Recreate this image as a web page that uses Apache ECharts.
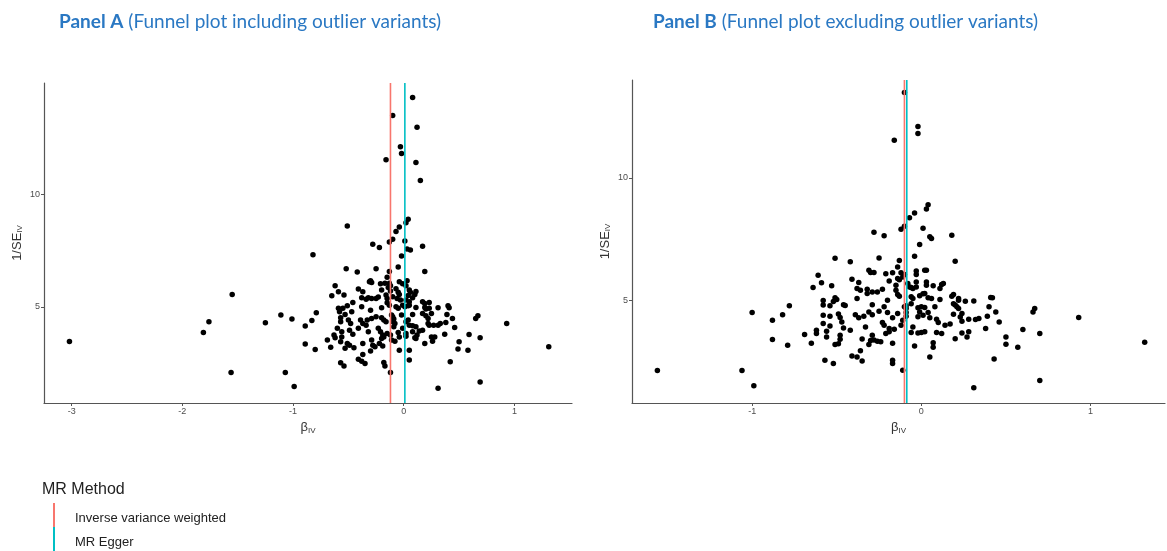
<!DOCTYPE html>
<html>
<head>
<meta charset="utf-8">
<title>Funnel plots</title>
<script src="https://cdn.jsdelivr.net/npm/echarts@6/dist/echarts.min.js"></script>
<style>
  html, body { margin: 0; padding: 0; background: #fff; }
  #chart { width: 1167px; height: 551px; }
</style>
</head>
<body>
<div id="chart"></div>
<script>
// Panel A: [beta_IV, 1/SE_IV] for every variant, outliers included
const panelAPoints = [
  [-3.02,3.46],[-1.55,5.55],[-1.76,4.33],[-1.81,3.86],[-1.56,2.08],[-1.25,4.29],[-1.11,4.63],[-1.01,4.45],
  [-1.07,2.08],[-0.99,1.45],[-0.89,4.14],[-0.83,4.39],[-0.79,4.73],[-0.89,3.34],[-0.80,3.10],
  [0.08,14.31],[-0.10,13.50],[0.12,12.98],[-0.03,12.12],[-0.02,11.82],[-0.16,11.54],[0.11,11.42],[0.15,10.61],
  [-0.51,8.59],[0.04,8.89],[0.02,8.74],[-0.04,8.55],[-0.07,8.35],[-0.28,7.78],[-0.22,7.64],[-0.10,8.00],
  [-0.13,7.88],[0.01,7.92],[0.03,7.57],[0.06,7.52],[0.17,7.69],[-0.82,7.31],[-0.02,7.26],[-0.52,6.69],
  [-0.42,6.54],[-0.25,6.69],[-0.13,6.57],[-0.05,6.77],[0.19,6.57],[-0.15,6.31],
  [-0.30,6.16],[-0.31,6.11],[-0.29,6.08],[-0.21,6.02],[-0.17,6.05],[-0.13,6.04],[-0.12,5.93],[-0.04,6.11],
  [-0.01,6.02],[0.03,6.16],[0.02,5.93],[-0.62,5.93],[-0.41,5.79],[-0.37,5.67],[-0.59,5.67],[-0.54,5.52],
  [-0.65,5.49],[-0.20,5.74],[-0.14,5.86],[-0.12,5.70],[-0.07,5.80],[-0.05,5.64],[-0.04,5.55],[0.05,5.74],
  [0.06,5.64],[0.11,5.68],[0.04,5.50],[-0.38,5.40],[-0.34,5.33],[-0.32,5.40],[-0.29,5.37],[-0.25,5.37],
  [-0.23,5.43],[-0.16,5.52],[-0.15,5.37],[-0.10,5.45],[-0.06,5.37],[-0.03,5.30],[0.02,5.30],[0.05,5.22],
  [0.08,5.40],[0.10,5.55],[0.17,5.22],[0.19,5.15],[0.23,5.19],[-0.15,5.18],[-0.13,5.07],[-0.46,5.19],
  [-0.51,5.04],[-0.55,4.93],[-0.59,4.93],[-0.58,4.78],[-0.38,5.00],[-0.30,4.84],[-0.20,4.96],[-0.07,5.00],
  [-0.05,4.93],[-0.01,5.07],[0.01,5.00],[0.04,5.04],[0.05,5.07],[0.11,4.97],[0.19,4.97],[0.20,4.90],
  [0.23,4.93],[0.31,4.96],[0.40,5.04],[0.41,4.96],[-0.47,4.78],[-0.53,4.66],[-0.57,4.51],[-0.11,4.63],
  [-0.10,4.55],[-0.09,4.45],[-0.10,4.33],[-0.08,4.26],[-0.09,4.11],[-0.02,4.63],[0.08,4.66],[0.17,4.70],
  [0.20,4.60],[0.22,4.48],[0.25,4.70],[0.39,4.66],[0.44,4.48],[0.67,4.60],[0.65,4.48],[-0.33,4.41],
  [-0.29,4.48],[-0.25,4.55],[-0.20,4.51],[-0.18,4.41],[-0.16,4.33],[-0.39,4.41],[-0.37,4.26],[-0.34,4.18],
  [-0.50,4.41],[-0.48,4.26],[-0.57,4.33],[0.02,4.33],[0.04,4.41],[0.05,4.18],[0.08,4.15],[0.11,4.11],
  [0.22,4.26],[0.23,4.18],[0.27,4.18],[0.31,4.18],[0.33,4.26],[0.38,4.30],[0.46,4.08],[-0.60,4.04],
  [-0.56,3.89],[-0.49,3.96],[-0.46,3.78],[-0.41,4.04],[-0.32,3.89],[-0.23,4.04],[-0.21,3.89],[-0.19,3.74],
  [-0.15,3.81],[-0.12,3.74],[-0.05,3.86],[-0.01,4.04],[0.02,3.81],[0.08,3.89],[0.12,3.74],[0.14,3.92],
  [0.17,3.96],[0.25,3.66],[0.28,3.66],[0.26,3.47],[0.19,3.37],[0.37,3.78],[0.59,3.77],[0.69,3.62],
  [-0.69,3.52],[-0.63,3.74],[-0.62,3.62],[-0.56,3.66],[-0.57,3.44],[-0.51,3.37],[-0.49,3.29],[-0.53,3.15],
  [-0.37,3.37],[-0.29,3.52],[-0.28,3.29],[-0.26,3.22],[-0.22,3.37],[-0.20,3.59],[-0.18,3.66],[-0.19,3.26],
  [-0.11,3.52],[-0.08,3.47],[-0.04,3.66],[0.02,3.69],[0.10,3.62],[0.11,3.59],[0.50,3.44],[0.49,3.12],
  [0.58,3.07],[-0.66,3.20],[-0.45,3.18],[-0.04,3.07],[0.05,3.07],[-0.37,2.88],[-0.30,3.03],[-0.41,2.67],
  [-0.38,2.58],[-0.35,2.48],[-0.57,2.51],[-0.54,2.37],[-0.18,2.52],[-0.17,2.37],[0.05,2.63],[0.42,2.55],
  [-0.12,2.08],[0.93,4.26],[1.31,3.22],[0.69,1.65],[0.31,1.38]
];

// Panel B: [beta_IV, 1/SE_IV] with outlier variants removed
const panelBPoints = [
  [-0.10,13.49],[-0.02,12.10],[-0.02,11.81],[-0.16,11.54],[0.04,8.90],[0.03,8.73],[-0.04,8.56],[-0.07,8.37],
  [-0.10,8.02],[-0.12,7.90],[0.01,7.94],[-0.28,7.78],
  [-1.56,2.13],[-1.06,2.13],[-0.99,1.50],[0.93,4.29],[1.32,3.28],[0.31,1.42],
  [-0.22,7.63],[0.05,7.59],[0.06,7.52],[0.18,7.66],[-0.01,7.28],[-0.51,6.72],[-0.42,6.57],[-0.25,6.73],
  [-0.13,6.62],[-0.04,6.80],[0.20,6.59],[-0.14,6.36],[-0.31,6.23],[-0.30,6.13],[-0.28,6.13],[-0.21,6.08],
  [-0.17,6.12],[-0.12,6.12],[-0.10,6.05],[-0.03,6.19],[-0.03,6.05],[0.02,6.23],[0.03,6.23],[-0.61,6.02],
  [-0.14,5.89],[-0.13,5.84],[-0.11,5.95],[-0.41,5.86],[-0.37,5.72],[-0.19,5.79],[-0.08,5.68],[-0.06,5.52],
  [-0.03,5.75],[-0.59,5.71],[-0.64,5.52],[-0.53,5.59],[-0.38,5.48],[-0.36,5.41],[-0.32,5.45],[-0.32,5.27],
  [-0.29,5.34],[-0.26,5.34],[-0.23,5.45],[-0.15,5.61],[-0.15,5.41],[-0.14,5.23],[-0.13,5.16],[-0.07,5.54],
  [-0.05,5.48],[-0.03,5.54],[0.03,5.75],[0.03,5.61],[0.07,5.59],[0.11,5.48],[0.12,5.64],[0.13,5.68],
  [-0.06,5.14],[-0.05,5.07],[-0.01,5.18],[0.01,5.26],[0.02,5.27],[0.04,5.10],[0.06,5.07],[0.11,5.03],
  [0.19,5.23],[0.18,5.16],[0.22,5.00],[0.22,5.07],[0.26,4.96],[0.31,4.97],[0.41,5.11],[0.42,5.10],
  [-0.51,5.10],[-0.50,5.03],[-0.52,4.95],[-0.58,4.99],[-0.58,4.80],[-0.54,4.77],[-0.46,4.82],[-0.45,4.78],
  [-0.78,4.77],[-0.38,5.07],[-0.20,5.00],[-0.29,4.82],[-0.22,4.73],[-0.09,4.77],[-0.09,4.66],[-0.09,4.50],
  [-0.09,4.35],[-0.10,4.73],[-0.06,4.86],[-0.02,4.69],[0.00,4.73],[0.02,4.70],[-0.01,4.52],[0.01,4.39],
  [-0.02,4.32],[0.08,4.73],[0.19,4.86],[0.20,4.80],[0.21,4.73],[0.22,4.66],[0.24,4.46],[0.19,4.43],
  [0.23,4.31],[0.24,4.14],[0.28,4.22],[0.32,4.21],[0.34,4.25],[0.40,4.73],[0.44,4.52],[0.39,4.35],
  [0.46,4.11],[0.38,3.84],[0.67,4.66],[0.66,4.52],[-1.00,4.50],[-0.82,4.41],[-0.88,4.18],[-0.58,4.39],
  [-0.54,4.35],[-0.49,4.44],[-0.48,4.29],[-0.39,4.41],[-0.37,4.28],[-0.34,4.35],[-0.31,4.52],[-0.29,4.41],
  [-0.25,4.55],[-0.20,4.50],[-0.17,4.28],[-0.14,4.46],[-0.58,4.05],[-0.54,3.95],[-0.47,4.11],[-0.46,3.87],
  [-0.33,3.91],[-0.23,4.09],[-0.22,3.98],[-0.19,3.84],[-0.16,3.81],[-0.21,3.64],[-0.19,3.71],[-0.11,4.18],
  [-0.12,3.98],[-0.05,3.91],[0.04,4.50],[0.05,4.28],[0.09,4.22],[0.10,4.09],[0.14,3.98],[0.17,4.03],
  [-0.69,3.60],[-0.62,3.77],[-0.62,3.64],[-0.56,3.73],[-0.56,3.50],[-0.42,3.77],[-0.48,3.57],[-0.48,3.41],
  [-0.35,3.42],[-0.29,3.57],[-0.28,3.37],[-0.26,3.32],[-0.30,3.35],[-0.31,3.19],[-0.24,3.30],[-0.06,3.68],
  [-0.02,3.66],[0.00,3.68],[0.02,3.71],[0.09,3.68],[0.12,3.64],[0.20,3.43],[0.24,3.66],[0.28,3.71],
  [0.27,3.50],[0.50,3.50],[0.50,3.20],[0.60,3.80],[0.70,3.64],[0.57,3.08],[-0.88,3.39],[-0.79,3.16],
  [-0.65,3.24],[-0.51,3.19],[-0.49,3.22],[-0.17,3.24],[-0.04,3.13],[0.07,3.26],[0.07,3.08],[-0.36,2.94],
  [-0.41,2.72],[-0.38,2.68],[-0.35,2.52],[-0.57,2.55],[-0.52,2.41],[-0.17,2.55],[-0.17,2.41],[0.05,2.68],
  [0.43,2.60],[-0.11,2.14],[0.70,1.72]
];

// MR estimates drawn as vertical lines
const methods = ['Inverse variance weighted', 'MR Egger'];
const methodColors = ['#F8766D', '#00BFC4'];
const panelAEstimates = [-0.12, 0.01];
const panelBEstimates = [-0.10, -0.086];

// axis ranges and tick labels
const panelAXRange = [-3.25, 1.52];
const panelAYRange = [0.72, 14.95];
const panelBXRange = [-1.71, 1.44];
const panelBYRange = [0.80, 14.0];
const panelAXTicks = [-3, -2, -1, 0, 1];
const panelBXTicks = [-1, 0, 1];
const yTicks = [5, 10];

const chart = echarts.init(document.getElementById('chart'));

const tickColor = '#4d4d4d';
const axisColor = '#555';
const baseFont = 'Liberation Sans, Arial, sans-serif';

function xAxisFor(gridIndex, range, ticks) {
  return {
    type: 'value', gridIndex, min: range[0], max: range[1],
    name: '{b|β}{s|IV}', nameLocation: 'middle', nameGap: 14,
    nameTextStyle: {
      rich: {
        b: { fontSize: 13, color: '#333', fontFamily: baseFont },
        s: { fontSize: 8, color: '#333', fontFamily: baseFont, padding: [6, 0, 0, 0] }
      }
    },
    axisLine: { onZero: false, lineStyle: { color: axisColor, width: 1.2 } },
    axisTick: { show: true, length: 3, lineStyle: { color: axisColor }, customValues: ticks },
    axisLabel: { color: tickColor, fontSize: 9, fontFamily: baseFont, margin: 4, customValues: ticks },
    splitLine: { show: false }
  };
}

function yAxisFor(gridIndex, range) {
  return {
    type: 'value', gridIndex, min: range[0], max: range[1],
    name: '{n|1/SE}{s|IV}', nameLocation: 'middle', nameGap: 20, nameRotate: 90,
    nameTextStyle: {
      rich: {
        n: { fontSize: 13, color: '#333', fontFamily: baseFont },
        s: { fontSize: 8, color: '#333', fontFamily: baseFont, padding: [6, 0, 0, 0] }
      }
    },
    axisLine: { onZero: false, lineStyle: { color: axisColor, width: 1.2 } },
    axisTick: { show: true, length: 3, lineStyle: { color: axisColor }, customValues: yTicks },
    axisLabel: { color: tickColor, fontSize: 9, fontFamily: baseFont, margin: 4, customValues: yTicks },
    splitLine: { show: false }
  };
}

function panelSeries(idx, points, estimates, yRange) {
  const out = [{
    type: 'scatter', name: 'variants', xAxisIndex: idx, yAxisIndex: idx,
    data: points, symbolSize: 5.5, itemStyle: { color: '#000', opacity: 1 }, z: 2, silent: true
  }];
  methods.forEach((m, i) => {
    out.push({
      type: 'line', name: m, xAxisIndex: idx, yAxisIndex: idx,
      data: [[estimates[i], yRange[0]], [estimates[i], yRange[1]]],
      showSymbol: false, symbol: 'none', color: methodColors[i],
      lineStyle: { color: methodColors[i], width: 1.6 }, z: 3, silent: true
    });
  });
  return out;
}

function titleFor(left, label, desc) {
  return {
    left, top: 12, padding: 0,
    text: '{b|' + label + '}{n| (' + desc + ')}',
    textStyle: {
      rich: {
        b: { fontSize: 19, fontWeight: 'bold', color: '#2a78c3', fontFamily: 'Lato' },
        n: { fontSize: 19, fontWeight: 'normal', color: '#2a78c3', fontFamily: 'Lato' }
      }
    }
  };
}

chart.setOption({
  backgroundColor: '#fff',
  animation: false,
  title: [
    titleFor(59, 'Panel A', 'Funnel plot including outlier variants'),
    titleFor(653, 'Panel B', 'Funnel plot excluding outlier variants'),
    { left: 42, top: 482, padding: 0, text: 'MR Method', textStyle: { fontSize: 16, fontWeight: 'normal', color: '#222', fontFamily: baseFont } }
  ],
  grid: [
    { left: 44, top: 83, width: 528, height: 320, outerBoundsMode: 'none' },
    { left: 632, top: 80, width: 533, height: 323, outerBoundsMode: 'none' }
  ],
  xAxis: [xAxisFor(0, panelAXRange, panelAXTicks), xAxisFor(1, panelBXRange, panelBXTicks)],
  yAxis: [yAxisFor(0, panelAYRange), yAxisFor(1, panelBYRange)],
  legend: {
    data: methods, orient: 'vertical', left: 53, top: 503, height: 100, padding: 0,
    icon: 'rect', itemWidth: 2, itemHeight: 24, itemGap: 0,
    selectedMode: false,
    formatter: '{t|{name}}',
    textStyle: {
      fontSize: 13, color: '#222', fontFamily: baseFont, padding: [0, 0, 0, 15],
      rich: { t: { fontSize: 13, color: '#222', fontFamily: baseFont, padding: [6, 0, 0, 0] } }
    }
  },
  series: [
    ...panelSeries(0, panelAPoints, panelAEstimates, panelAYRange),
    ...panelSeries(1, panelBPoints, panelBEstimates, panelBYRange)
  ]
});
</script>
</body>
</html>
